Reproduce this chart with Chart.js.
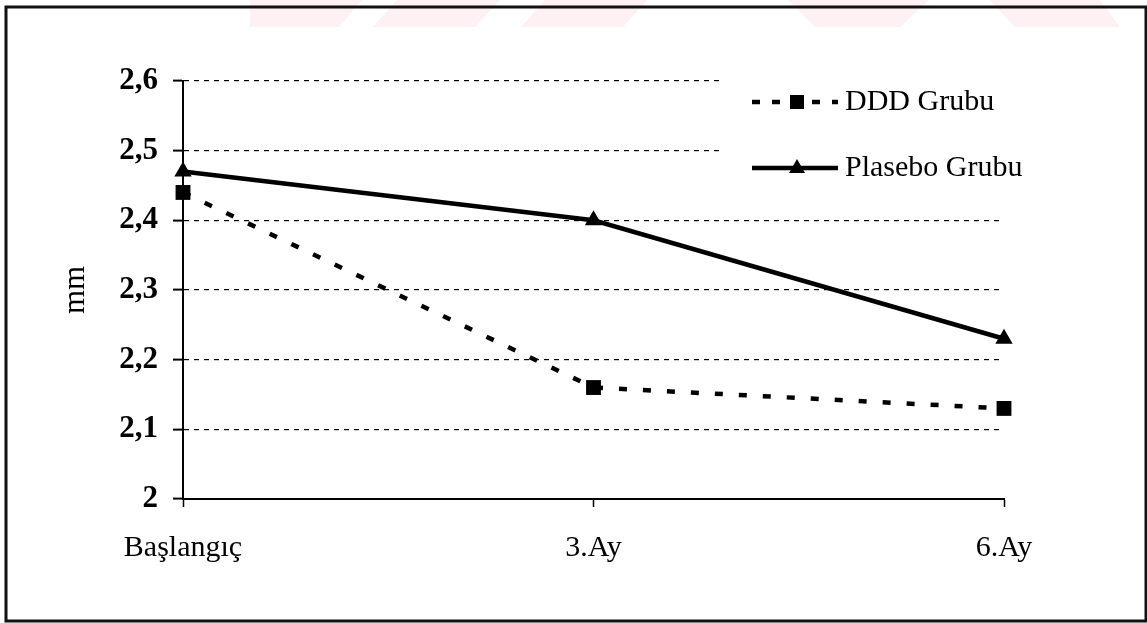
<!DOCTYPE html>
<html>
<head>
<meta charset="utf-8">
<script src="https://cdn.jsdelivr.net/npm/chart.js"></script>
<style>
  html, body { margin: 0; padding: 0; background: #fff; }
  #wrap { width: 1147px; height: 623px; }
</style>
</head>
<body>
<div id="wrap"><canvas id="lineCanvas"></canvas></div>
<script>
const labels = ['Başlangıç', '3.Ay', '6.Ay'];
const dddValues = [2.44, 2.16, 2.13];
const plaseboValues = [2.47, 2.40, 2.23];
const yTicks = [2, 2.1, 2.2, 2.3, 2.4, 2.5, 2.6];

const serif = "'Times New Roman', 'Liberation Serif', serif";
Chart.defaults.font.family = serif;
Chart.defaults.color = '#000';

// white page, faint scan watermark and outer frame
const framePlugin = {
    id: 'frame',
    beforeDraw(chart) {
        const ctx = chart.ctx;
        ctx.save();
        ctx.fillStyle = '#fff';
        ctx.fillRect(0, 0, chart.width, chart.height);
        ctx.fillStyle = '#fef1f3';
        const stripes = [
            [250, 362, 250, 339], [397, 500, 373, 475], [545, 647, 521, 623],
            [788, 929, 815, 900], [990, 1100, 1015, 1120]
        ];
        stripes.forEach(s => {
            ctx.beginPath();
            ctx.moveTo(s[0], 0); ctx.lineTo(s[1], 0);
            ctx.lineTo(s[3], 27); ctx.lineTo(s[2], 27);
            ctx.closePath();
            ctx.fill();
        });
        ctx.strokeStyle = '#111';
        ctx.lineWidth = 3;
        ctx.strokeRect(6, 7, 1140, 614);
        ctx.restore();
    }
};

// legend drawn inside the plot, top right, on a white box
const legendPlugin = {
    id: 'insideLegend',
    afterDatasetsDraw(chart) {
        const ctx = chart.ctx;
        ctx.save();
        ctx.fillStyle = '#fff';
        ctx.fillRect(720, 68, 330, 130);
        chart.data.datasets.forEach((ds, i) => {
            const y = 102 + i * 66;
            ctx.strokeStyle = ds.borderColor;
            ctx.lineWidth = ds.borderWidth;
            ctx.setLineDash(ds.borderDash.length ? [8, 12] : []);
            ctx.beginPath();
            ctx.moveTo(752, y);
            ctx.lineTo(838, y);
            ctx.stroke();
            ctx.setLineDash([]);
            ctx.fillStyle = ds.pointBackgroundColor;
            ctx.beginPath();
            if (ds.pointStyle === 'rect') {
                ctx.rect(790, y - 7, 14, 14);
            } else {
                ctx.moveTo(797, y - 9);
                ctx.lineTo(805, y + 5);
                ctx.lineTo(789, y + 5);
                ctx.closePath();
            }
            ctx.fill();
            ctx.fillStyle = '#000';
            ctx.font = '30px ' + serif;
            ctx.textBaseline = 'middle';
            ctx.fillText(ds.label, 845, y);
        });
        ctx.restore();
    }
};

new Chart(document.getElementById('lineCanvas'), {
    type: 'line',
    data: {
        labels: labels,
        datasets: [{
            label: 'DDD Grubu',
            data: dddValues,
            borderColor: '#000',
            borderWidth: 4.5,
            borderDash: [8, 16],
            pointStyle: 'rect',
            pointRadius: 10.5,
            pointBackgroundColor: '#000',
            pointBorderWidth: 0,
            tension: 0,
            clip: false
        }, {
            label: 'Plasebo Grubu',
            data: plaseboValues,
            borderColor: '#000',
            borderWidth: 4.5,
            borderDash: [],
            pointStyle: 'triangle',
            pointRadius: 10,
            pointBackgroundColor: '#000',
            pointBorderWidth: 0,
            tension: 0,
            clip: false
        }]
    },
    options: {
        responsive: true,
        maintainAspectRatio: false,
        animation: false,
        devicePixelRatio: 1,
        layout: { padding: { top: 81, right: 143, bottom: 0, left: 0 } },
        plugins: {
            legend: { display: false },
            tooltip: { enabled: false }
        },
        scales: {
            x: {
                offset: false,
                afterFit: s => { s.height = 124; },
                grid: { drawOnChartArea: false, tickLength: 8, tickWidth: 1.5, tickColor: '#000' },
                border: { color: '#000', width: 2 },
                ticks: { font: { size: 30 }, padding: 23, maxRotation: 0 }
            },
            y: {
                min: 2,
                max: 2.6,
                afterFit: s => { s.width = 183; },
                afterBuildTicks: s => { s.ticks = yTicks.map(v => ({ value: v })); },
                grid: { color: '#000', lineWidth: 1.2, tickLength: 10, tickWidth: 2, tickColor: '#000', tickBorderDash: [] },
                border: { color: '#000', width: 2, dash: [5, 5] },
                ticks: {
                    font: { size: 31, weight: 'bold' },
                    padding: 15,
                    callback: v => String(Math.round(v * 10) / 10).replace('.', ',')
                },
                title: { display: true, text: 'mm', font: { size: 31 }, padding: { top: 57, bottom: 0 } }
            }
        }
    },
    plugins: [framePlugin, legendPlugin]
});
</script>
</body>
</html>
